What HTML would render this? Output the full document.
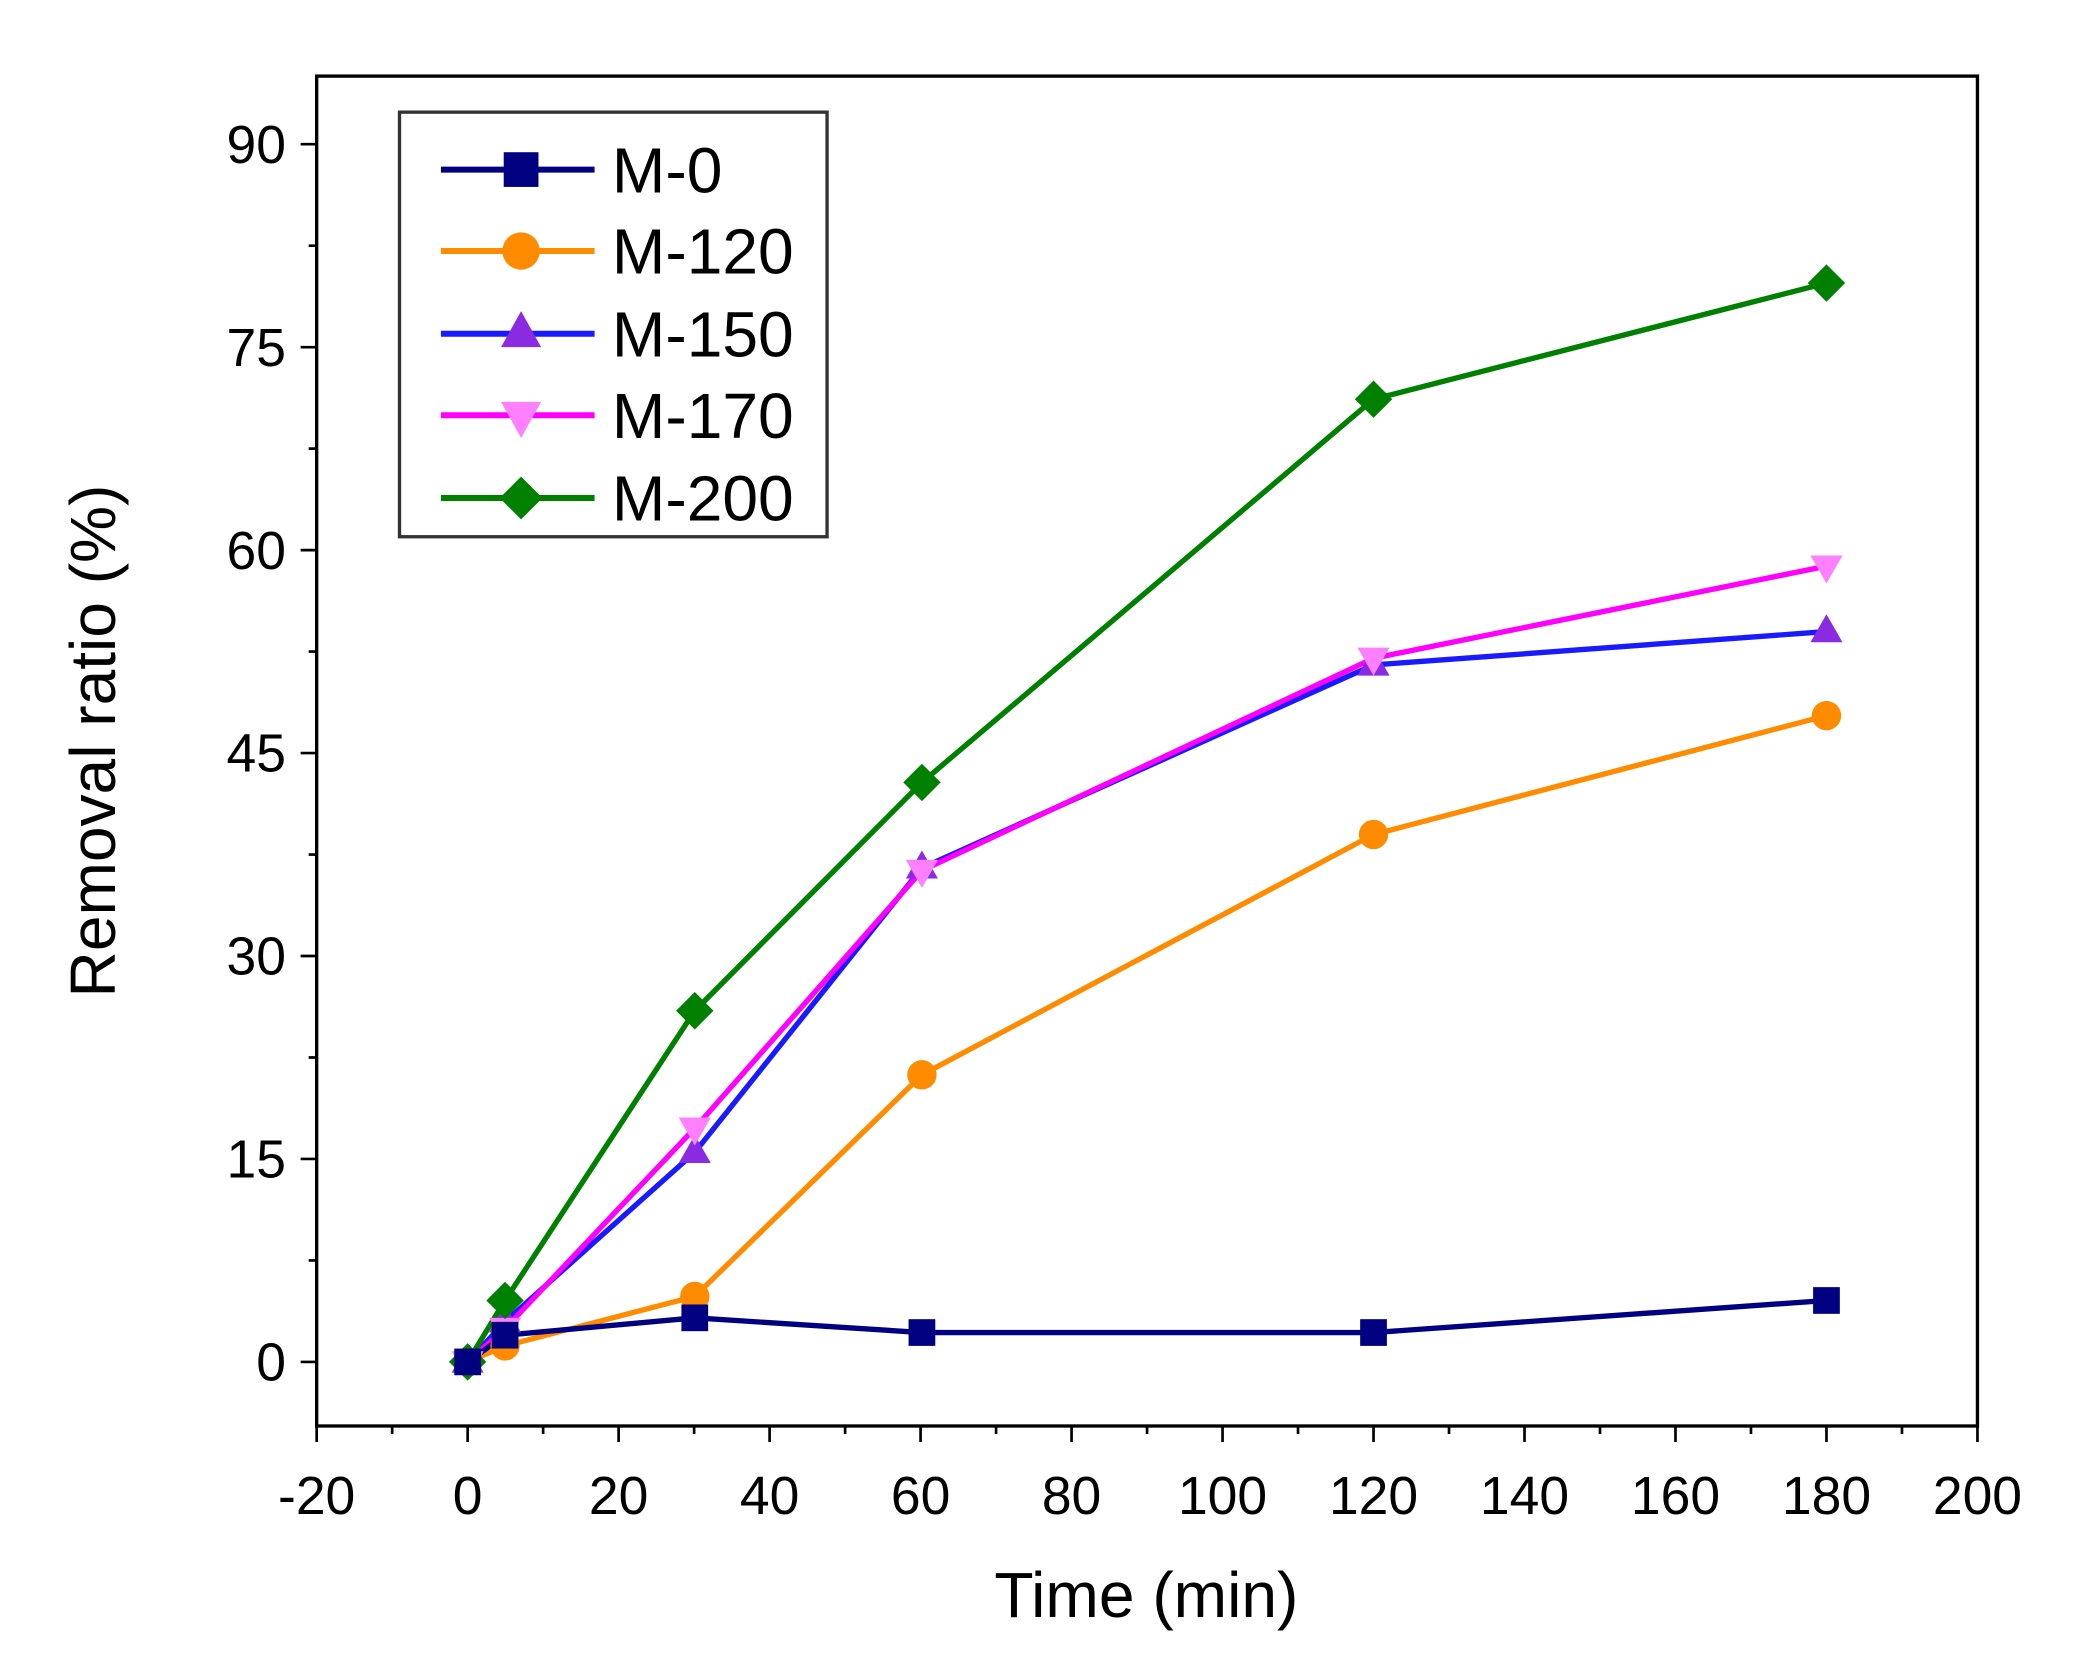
<!DOCTYPE html>
<html><head><meta charset="utf-8"><style>html,body{margin:0;padding:0;background:#fff}svg{display:block}</style></head>
<body>
<svg width="2079" height="1669" viewBox="0 0 1556 1250" preserveAspectRatio="none" xmlns="http://www.w3.org/2000/svg" font-family="Liberation Sans, Arial, sans-serif">
<rect width="1556" height="1250" fill="#fff"/>
<rect x="237" y="57" width="1243" height="1011" fill="none" stroke="#000" stroke-width="2.5"/>
<g stroke="#000" stroke-width="2">
<path d="M237 1068v12M350 1068v12M463 1068v12M576 1068v12M689 1068v12M802 1068v12M915 1068v12M1028 1068v12M1141 1068v12M1254 1068v12M1367 1068v12M1480 1068v12"/>
<path d="M293.5 1068v6M406.5 1068v6M519.5 1068v6M632.5 1068v6M745.5 1068v6M858.5 1068v6M971.5 1068v6M1084.5 1068v6M1197.5 1068v6M1310.5 1068v6M1423.5 1068v6"/>
<path d="M237 1020h-12M237 868h-12M237 716h-12M237 564h-12M237 412h-12M237 260h-12M237 108h-12"/>
<path d="M237 944h-6M237 792h-6M237 640h-6M237 488h-6M237 336h-6M237 184h-6"/>
</g>
<g font-size="40" text-anchor="middle" fill="#000">
<text x="237" y="1134">-20</text><text x="350" y="1134">0</text><text x="463" y="1134">20</text><text x="576" y="1134">40</text><text x="689" y="1134">60</text><text x="802" y="1134">80</text><text x="915" y="1134">100</text><text x="1028" y="1134">120</text><text x="1141" y="1134">140</text><text x="1254" y="1134">160</text><text x="1367" y="1134">180</text><text x="1480" y="1134">200</text>
</g>
<g font-size="40" text-anchor="end" fill="#000">
<text x="214" y="1034">0</text><text x="214" y="882">15</text><text x="214" y="730">30</text><text x="214" y="578">45</text><text x="214" y="426">60</text><text x="214" y="274">75</text><text x="214" y="122">90</text>
</g>
<text x="858" y="1211" font-size="48" text-anchor="middle">Time (min)</text>
<text transform="translate(86,555) rotate(-90)" font-size="48" text-anchor="middle">Removal ratio (%)</text>

<polyline fill="none" stroke="#ff8c00" stroke-width="4" points="350,1020 378,1008 520,971 690,805 1028,625 1367,536"/>
<polyline fill="none" stroke="#1a1aff" stroke-width="4" points="350,1020 378,990 520,863 690,650 1028,498 1367,473"/>
<polyline fill="none" stroke="#ff00ff" stroke-width="4" points="350,1020 378,995 520,845 690,652 1028,493 1367,424"/>
<polyline fill="none" stroke="#008000" stroke-width="4" points="350,1020 378,974 520,757 690,586 1028,299 1367,212"/>
<polyline fill="none" stroke="#000080" stroke-width="4" points="350,1020 378,1000 520,987 690,998 1028,998 1367,974"/>

<g fill="#ff8c00"><circle cx="350" cy="1020" r="11"/><circle cx="378" cy="1008" r="11"/><circle cx="520" cy="971" r="11"/><circle cx="690" cy="805" r="11"/><circle cx="1028" cy="625" r="11"/><circle cx="1367" cy="536" r="11"/></g>
<g fill="#8a2be2"><path d="M350 1007l12 21h-24z"/><path d="M378 977l12 21h-24z"/><path d="M520 850l12 21h-24z"/><path d="M690 637l12 21h-24z"/><path d="M1028 485l12 21h-24z"/><path d="M1367 460l12 21h-24z"/></g>
<g fill="#ff80ff"><path d="M350 1033l12-21h-24z"/><path d="M378 1008l12-21h-24z"/><path d="M520 858l12-21h-24z"/><path d="M690 665l12-21h-24z"/><path d="M1028 506l12-21h-24z"/><path d="M1367 437l12-21h-24z"/></g>
<g fill="#008000"><path d="M350 1006l14 14-14 14-14-14z"/><path d="M378 960l14 14-14 14-14-14z"/><path d="M520 743l14 14-14 14-14-14z"/><path d="M690 572l14 14-14 14-14-14z"/><path d="M1028 285l14 14-14 14-14-14z"/><path d="M1367 198l14 14-14 14-14-14z"/></g>
<g fill="#000080"><rect x="340" y="1010" width="20" height="20"/><rect x="368" y="990" width="20" height="20"/><rect x="510" y="977" width="20" height="20"/><rect x="680" y="988" width="20" height="20"/><rect x="1018" y="988" width="20" height="20"/><rect x="1357" y="964" width="20" height="20"/></g>

<rect x="299" y="84" width="320" height="318" fill="#fff" stroke="#333" stroke-width="2.5"/>
<g stroke-width="4.5">
<line x1="330" y1="127" x2="445" y2="127" stroke="#000080"/>
<line x1="330" y1="188" x2="445" y2="188" stroke="#ff8c00"/>
<line x1="330" y1="250" x2="445" y2="250" stroke="#1a1aff"/>
<line x1="330" y1="311" x2="445" y2="311" stroke="#ff00ff"/>
<line x1="330" y1="373" x2="445" y2="373" stroke="#008000"/>
</g>
<rect x="377" y="114" width="26" height="26" fill="#000080"/>
<circle cx="390" cy="188" r="14" fill="#ff8c00"/>
<path d="M390 233l15 27h-30z" fill="#8a2be2"/>
<path d="M390 328l15-27h-30z" fill="#ff80ff"/>
<path d="M390 357l16 16-16 16-16-16z" fill="#008000"/>
<g font-size="48" fill="#000">
<text x="458" y="144">M-0</text>
<text x="458" y="205">M-120</text>
<text x="458" y="267">M-150</text>
<text x="458" y="328">M-170</text>
<text x="458" y="390">M-200</text>
</g>
</svg>
</body></html>
